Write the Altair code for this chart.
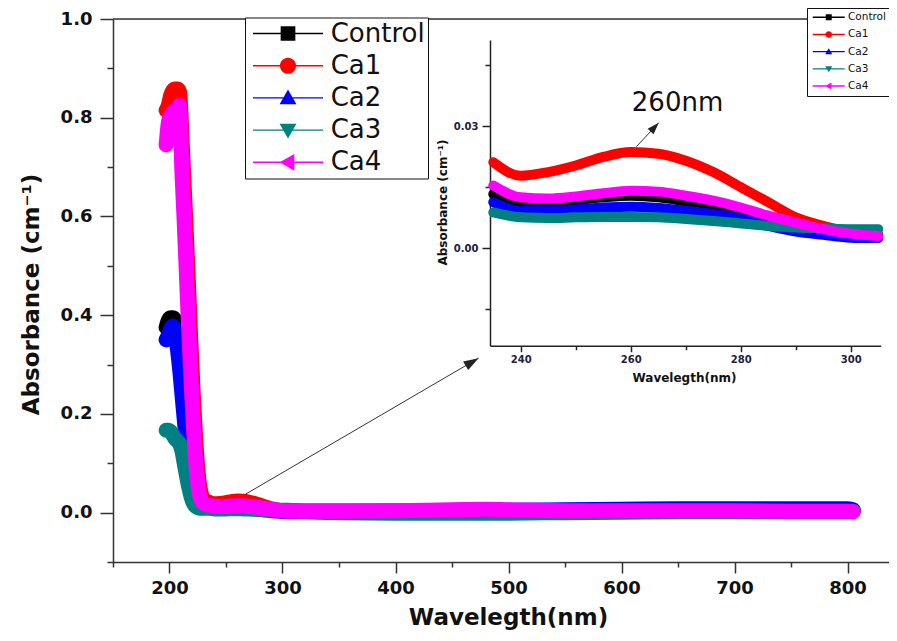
import altair as alt
import pandas as pd

# ---------------- data ----------------
WL = [197, 199, 201, 203, 205, 207, 209, 211, 213, 215, 217, 219, 221, 223, 225,
      227, 229, 231, 233, 235, 240, 245, 250, 255, 260, 265, 270, 275, 280, 285,
      290, 295, 300, 305, 320, 350, 400, 450, 480, 500, 550, 600, 650, 700, 750,
      800, 805]

CONTROL = [0.375, 0.390, 0.395, 0.395, 0.390, 0.365, 0.325, 0.275, 0.222, 0.170,
           0.120, 0.080, 0.050, 0.030, 0.020, 0.016, 0.0145, 0.0138, 0.0135, 0.0133,
           0.0108, 0.0113, 0.0118, 0.0125, 0.0129, 0.0125, 0.0115, 0.0104, 0.0088,
           0.0070, 0.0055, 0.0044, 0.0037, 0.0033, 0.003, 0.003, 0.003, 0.003,
           0.004, 0.004, 0.004, 0.004, 0.004, 0.004, 0.004, 0.004, 0.003]
CA1 = [0.815, 0.825, 0.845, 0.855, 0.858, 0.858, 0.852, 0.760, 0.660, 0.560,
       0.450, 0.340, 0.240, 0.155, 0.090, 0.050, 0.032, 0.026, 0.023, 0.0211,
       0.0178, 0.0187, 0.0203, 0.0224, 0.0236, 0.0232, 0.0215, 0.0187, 0.0150,
       0.0113, 0.0076, 0.0055, 0.0039, 0.0030, 0.003, 0.003, 0.003, 0.003,
       0.004, 0.004, 0.004, 0.004, 0.004, 0.004, 0.004, 0.004, 0.003]
CA2 = [0.350, 0.360, 0.372, 0.378, 0.365, 0.332, 0.290, 0.240, 0.190, 0.140,
       0.095, 0.060, 0.035, 0.022, 0.016, 0.013, 0.012, 0.0115, 0.0114, 0.0113,
       0.0092, 0.0092, 0.0095, 0.0100, 0.0102, 0.0099, 0.0092, 0.0084, 0.0072,
       0.0055, 0.0041, 0.0033, 0.0026, 0.0025, 0.003, 0.003, 0.003, 0.004,
       0.005, 0.005, 0.006, 0.007, 0.008, 0.008, 0.008, 0.008, 0.006]
CA3 = [0.167, 0.167, 0.164, 0.157, 0.150, 0.145, 0.140, 0.125, 0.100, 0.075,
       0.052, 0.033, 0.020, 0.013, 0.010, 0.009, 0.0088, 0.0088, 0.0088, 0.0088,
       0.0076, 0.0074, 0.0076, 0.0077, 0.0077, 0.0076, 0.0072, 0.0067, 0.0061,
       0.0055, 0.0051, 0.0049, 0.0047, 0.0047, 0.002, 0.000, -0.001, -0.001,
       -0.001, -0.001, 0.000, 0.001, 0.002, 0.002, 0.002, 0.002, 0.003]
CA4 = [0.745, 0.790, 0.805, 0.810, 0.815, 0.820, 0.825, 0.690, 0.590, 0.480,
       0.370, 0.270, 0.180, 0.110, 0.060, 0.032, 0.022, 0.018, 0.016, 0.0154,
       0.0125, 0.0122, 0.0127, 0.0135, 0.0141, 0.0139, 0.0129, 0.0117, 0.0100,
       0.0080, 0.0063, 0.0047, 0.0036, 0.0030, 0.003, 0.003, 0.004, 0.006,
       0.007, 0.006, 0.004, 0.004, 0.004, 0.004, 0.003, 0.003, 0.002]

SERIES = ["Control", "Ca1", "Ca2", "Ca3", "Ca4"]
COLORS = ["#000000", "#ff0000", "#0000ff", "#008080", "#ff00ff"]

MAIN_X_TICKS = [150, 200, 250, 300, 350, 400, 450, 500, 550, 600, 650, 700, 750, 800]
MAIN_Y_TICKS = [-0.1, 0.0, 0.1, 0.2, 0.3, 0.4, 0.5, 0.6, 0.7, 0.8, 0.9, 1.0]
INSET_X_TICKS = [240, 250, 260, 270, 280, 290, 300]
INSET_Y_TICKS = [-0.015, 0.0, 0.015, 0.03, 0.045]

# annotation arrows (data coordinates)
MAIN_ARROW = {"x1": [267.0], "y1": [0.037], "x2": [473.5], "y2": [0.313]}
INSET_ARROW = {"x1": [261.0], "y1": [0.0249], "x2": [265.1], "y2": [0.0308]}
INSET_LABEL = {"x": [268.5], "y": [0.0356], "label": ["260nm"]}
FRAME_TOP = [1.0]

# ---------------- tables ----------------
rows = []
for name, col, vals in zip(SERIES, COLORS, [CONTROL, CA1, CA2, CA3, CA4]):
    for w, v in zip(WL, vals):
        rows.append({"series": name, "col": col, "wl": w, "abs": v})
df = pd.DataFrame(rows)
df_inset = df[(df.wl >= 235) & (df.wl <= 305)]
df_keys = df[df.wl == 260]

FONT = "DejaVu Sans"

# legend symbol paths (line + marker)
def mk(line_half, thick, marker):
    return f"M{-line_half},{-thick}L{line_half},{-thick}L{line_half},{thick}L{-line_half},{thick}Z" + marker

MAIN_MARKERS = [
    "M-1.05,-1.05L1.05,-1.05L1.05,1.05L-1.05,1.05Z",
    "M-1.15,0A1.15,1.15 0 1,1 1.15,0A1.15,1.15 0 1,1 -1.15,0Z",
    "M0,-1.2L1.2,0.9L-1.2,0.9Z",
    "M0,1.2L-1.2,-0.9L1.2,-0.9Z",
    "M-1.2,0L0.9,-1.2L0.9,1.2Z",
]
MAIN_SHAPES = [mk(5, 0.1, m) for m in MAIN_MARKERS]
INSET_MARKERS = [
    "M-0.85,-0.85L0.85,-0.85L0.85,0.85L-0.85,0.85Z",
    "M-0.95,0A0.95,0.95 0 1,1 0.95,0A0.95,0.95 0 1,1 -0.95,0Z",
    "M0,-1L1,0.75L-1,0.75Z",
    "M0,1L-1,-0.75L1,-0.75Z",
    "M-1,0L0.75,-1L0.75,1Z",
]
INSET_SHAPES = [mk(4.57, 0.2, m) for m in INSET_MARKERS]

ARROW_HEAD = "M0,0L-2,-0.67L-2,0.67Z"

# ---------------- main plot ----------------
L0, T0 = 113, 19
W, H = 776, 543
xs_main = alt.Scale(domain=[150, 150 + W / 1.13], nice=False, zero=False)
ys_main = alt.Scale(domain=[-0.1, 1.0], nice=False, zero=False)

ax_main_x = alt.Axis(
    values=MAIN_X_TICKS, grid=False, labelOverlap=False, labelFlush=False,
    labelExpr="datum.value % 100 === 0 ? datum.label : ''",
    tickSize={"condition": {"test": "datum.value % 100 === 0", "value": 11}, "value": 5},
    tickColor="#333", tickWidth=1.5, domainColor="#333", domainWidth=1.5,
    labelFont=FONT, labelFontSize=18, labelFontWeight="bold", labelColor="#111",
    labelPadding=6,
    title="Wavelegth(nm)", titleFont=FONT, titleFontSize=23, titleFontWeight="bold",
    titleColor="#111", titleX=395, titleY=55, titleBaseline="middle", titleAlign="center",
)
ax_main_y = alt.Axis(
    values=MAIN_Y_TICKS, grid=False, labelOverlap=False, labelFlush=False, format=".1f",
    labelExpr="round(datum.value * 10) % 2 === 0 ? datum.label : ''",
    tickSize={"condition": {"test": "round(datum.value * 10) % 2 === 0", "value": 13}, "value": 6},
    tickColor="#333", tickWidth=1.5, domainColor="#333", domainWidth=1.5,
    labelFont=FONT, labelFontSize=18, labelFontWeight="bold", labelColor="#111",
    labelPadding=8,
    title="Absorbance (cm⁻¹)", titleFont=FONT, titleFontSize=23, titleFontWeight="bold",
    titleColor="#111", titleX=-82, titleY=275, titleBaseline="middle", titleAlign="center",
    titleAngle=270,
)

main_legend = alt.Legend(
    orient="none", legendX=245 - L0, legendY=17.5 - T0, title=None, padding=3, rowPadding=6.2,
    labelFont=FONT, labelFontSize=26, labelColor="#111", symbolSize=196,
    symbolOffset=27, labelOffset=29.7, strokeColor="#111", fillColor="white",
    symbolStrokeWidth=0, symbolOpacity=1, cornerRadius=0,
)

main_lines = alt.Chart(df).mark_line(
    strokeWidth=15, strokeCap="round", strokeJoin="round", interpolate="monotone"
).encode(
    x=alt.X("wl:Q", scale=xs_main, axis=ax_main_x),
    y=alt.Y("abs:Q", scale=ys_main, axis=ax_main_y),
    color=alt.Color("col:N", scale=None),
)
main_keys = alt.Chart(df_keys).mark_point(filled=True, opacity=0).encode(
    x=alt.X("wl:Q", scale=xs_main),
    y=alt.Y("abs:Q", scale=ys_main),
    fill=alt.Fill("series:N", scale=alt.Scale(domain=SERIES, range=COLORS), legend=main_legend),
    shape=alt.Shape("series:N", scale=alt.Scale(domain=SERIES, range=MAIN_SHAPES), legend=main_legend),
)
frame_top = alt.Chart(pd.DataFrame({"y": FRAME_TOP})).mark_rule(
    color="#333", strokeWidth=1.5
).encode(y=alt.Y("y:Q", scale=ys_main))
marrow = pd.DataFrame(MAIN_ARROW)
main_arrow = alt.Chart(marrow).mark_rule(color="#333", strokeWidth=1).encode(
    x=alt.X("x1:Q", scale=xs_main), y=alt.Y("y1:Q", scale=ys_main), x2="x2:Q", y2="y2:Q"
)
main_head = alt.Chart(marrow).mark_point(
    shape=ARROW_HEAD, filled=True, size=225, angle=329.5, color="#222", opacity=1
).encode(x=alt.X("x2:Q", scale=xs_main), y=alt.Y("y2:Q", scale=ys_main))

main = alt.layer(frame_top, main_lines, main_keys, main_arrow, main_head)

# ---------------- inset ----------------
xs_in = alt.Scale(domain=[234.4, 305.45], range=[490 - L0, 880.7 - L0], nice=False, zero=False)
ys_in = alt.Scale(domain=[-0.0239, 0.0511], range=[345.7 - T0, 40 - T0], nice=False, zero=False)

ax_in_x = alt.Axis(
    orient="bottom", offset=(345.7 - T0) - H, values=INSET_X_TICKS, grid=False,
    labelOverlap=False, labelFlush=False,
    labelExpr="datum.value % 20 === 0 ? datum.label : ''",
    tickSize={"condition": {"test": "datum.value % 20 === 0", "value": 6}, "value": 4},
    tickColor="#222", tickWidth=1.5, domainColor="#222", domainWidth=1.5,
    labelFont=FONT, labelFontSize=10, labelFontWeight="bold", labelColor="#202040",
    labelPadding=3,
    title="Wavelegth(nm)", titleFont=FONT, titleFontSize=12, titleFontWeight="bold",
    titleColor="#111", titleX=684 - L0, titleY=32, titleBaseline="middle", titleAlign="center",
)
ax_in_y = alt.Axis(
    orient="left", offset=-(490 - L0), values=INSET_Y_TICKS, grid=False, format=".2f",
    labelOverlap=False, labelFlush=False,
    labelExpr="abs(round(datum.value * 1000)) % 30 === 0 ? datum.label : ''",
    tickSize={"condition": {"test": "abs(round(datum.value * 1000)) % 30 === 0", "value": 8}, "value": 5},
    tickColor="#222", tickWidth=1.5, domainColor="#222", domainWidth=1.5,
    labelFont=FONT, labelFontSize=10, labelFontWeight="bold", labelColor="#202040",
    labelPadding=4,
    title="Absorbance (cm⁻¹)", titleFont=FONT, titleFontSize=12, titleFontWeight="bold",
    titleColor="#111", titleX=-48, titleY=202 - T0, titleBaseline="middle", titleAlign="center",
    titleAngle=270,
)
inset_legend = alt.Legend(
    orient="none", legendX=807 - L0, legendY=8 - T0, title=None, padding=4, rowPadding=6.2,
    labelFont=FONT, labelFontSize=10.5, labelColor="#111", symbolSize=49,
    symbolOffset=12.5, labelOffset=14, strokeColor="#111", fillColor="white",
    symbolStrokeWidth=0, symbolOpacity=1, cornerRadius=0,
)

inset_lines = alt.Chart(df_inset).mark_line(
    strokeWidth=10, strokeCap="round", strokeJoin="round", interpolate="monotone"
).encode(
    x=alt.X("wl:Q", scale=xs_in, axis=ax_in_x),
    y=alt.Y("abs:Q", scale=ys_in, axis=ax_in_y),
    color=alt.Color("col:N", scale=None),
)
inset_keys = alt.Chart(df_keys).mark_point(filled=True, opacity=0).encode(
    x=alt.X("wl:Q", scale=xs_in),
    y=alt.Y("abs:Q", scale=ys_in),
    fill=alt.Fill("series:N", scale=alt.Scale(domain=SERIES, range=COLORS), legend=inset_legend),
    shape=alt.Shape("series:N", scale=alt.Scale(domain=SERIES, range=INSET_SHAPES), legend=inset_legend),
)
iarrow = pd.DataFrame(INSET_ARROW)
inset_arrow = alt.Chart(iarrow).mark_rule(color="#333", strokeWidth=1).encode(
    x=alt.X("x1:Q", scale=xs_in), y=alt.Y("y1:Q", scale=ys_in), x2="x2:Q", y2="y2:Q"
)
inset_head = alt.Chart(iarrow).mark_point(
    shape=ARROW_HEAD, filled=True, size=144, angle=313.4, color="#222", opacity=1
).encode(x=alt.X("x2:Q", scale=xs_in), y=alt.Y("y2:Q", scale=ys_in))
inset_text = alt.Chart(pd.DataFrame(INSET_LABEL)).mark_text(
    font=FONT, fontSize=26, color="#111"
).encode(x=alt.X("x:Q", scale=xs_in), y=alt.Y("y:Q", scale=ys_in), text="label:N")

inset = alt.layer(inset_lines, inset_keys, inset_arrow, inset_head, inset_text)

chart = alt.layer(main, inset).resolve_scale(
    x="independent", y="independent", fill="independent", shape="independent"
).resolve_legend(
    fill="independent", shape="independent"
).properties(
    width=W, height=H,
    autosize=alt.AutoSizeParams(type="none"),
    padding={"left": L0 - 8, "top": T0 - 8, "right": 0, "bottom": 70},
).configure_view(stroke=None).configure(background="white")

chart.save("out.html", embed_options={"renderer": "svg", "actions": False})
